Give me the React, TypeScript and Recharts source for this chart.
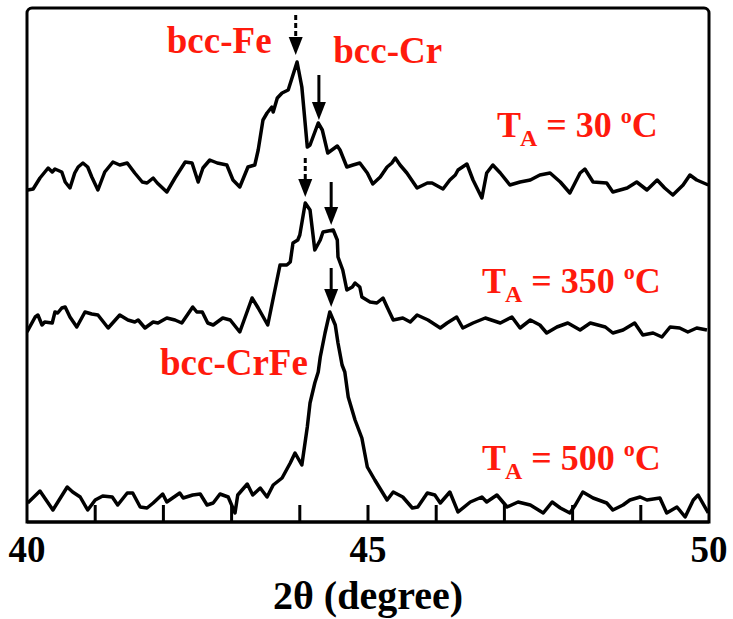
import React from 'react';
import { LineChart, Line, XAxis, YAxis, ReferenceLine, ReferenceDot, ReferenceArea } from 'recharts';

// 2θ positions (degree) and intensities (arb. units, already offset per trace)
const ta30X = [40.01, 40.09, 40.19, 40.31, 40.37, 40.41, 40.51, 40.56, 40.63, 40.7, 40.75, 40.82, 40.89, 40.95, 41.04, 41.14, 41.26, 41.36, 41.47, 41.58, 41.69, 41.76, 41.85, 41.91, 42.05, 42.17, 42.32, 42.42, 42.51, 42.58, 42.68, 42.79, 42.93, 43.02, 43.12, 43.24, 43.34, 43.39, 43.46, 43.52, 43.59, 43.61, 43.67, 43.74, 43.83, 43.96, 44.03, 44.11, 44.15, 44.27, 44.33, 44.41, 44.55, 44.59, 44.69, 44.78, 44.88, 44.99, 45.07, 45.18, 45.28, 45.35, 45.4, 45.47, 45.57, 45.72, 45.87, 45.94, 46.1, 46.2, 46.28, 46.32, 46.45, 46.54, 46.67, 46.74, 46.83, 46.94, 47.08, 47.23, 47.38, 47.52, 47.67, 47.82, 47.96, 48.11, 48.18, 48.3, 48.5, 48.59, 48.8, 48.94, 49.09, 49.24, 49.35, 49.47, 49.62, 49.72, 49.82, 49.99];
const ta30Y = [332, 333, 344, 354, 350, 353, 350, 340, 334, 349, 355, 359, 355, 345, 332, 350, 360, 357, 359, 349, 340, 339, 344, 339, 330, 344, 360, 359, 340, 354, 362, 359, 357, 342, 335, 355, 357, 372, 402, 409, 415, 410, 424, 429, 432, 460, 435, 375, 377, 399, 392, 369, 376, 372, 355, 357, 359, 349, 338, 345, 355, 359, 364, 357, 349, 334, 339, 339, 333, 342, 347, 352, 358, 342, 324, 349, 357, 349, 337, 340, 342, 347, 349, 340, 329, 349, 353, 340, 339, 330, 334, 340, 332, 342, 334, 327, 337, 347, 342, 337];

const ta350X = [40.0, 40.12, 40.16, 40.22, 40.26, 40.37, 40.41, 40.45, 40.51, 40.56, 40.63, 40.73, 40.85, 40.95, 41.04, 41.19, 41.36, 41.48, 41.58, 41.63, 41.73, 41.85, 41.92, 42.05, 42.17, 42.27, 42.35, 42.43, 42.49, 42.57, 42.65, 42.73, 42.87, 42.98, 43.12, 43.3, 43.39, 43.53, 43.71, 43.81, 43.86, 43.9, 43.97, 44.0, 44.08, 44.15, 44.22, 44.3, 44.34, 44.49, 44.55, 44.56, 44.63, 44.69, 44.77, 44.81, 44.88, 44.91, 45.03, 45.13, 45.22, 45.28, 45.37, 45.51, 45.62, 45.72, 45.88, 46.06, 46.16, 46.3, 46.39, 46.54, 46.72, 46.94, 47.11, 47.23, 47.38, 47.52, 47.62, 47.77, 47.93, 48.11, 48.26, 48.48, 48.59, 48.74, 48.91, 49.03, 49.18, 49.31, 49.43, 49.57, 49.69, 49.82, 49.97];
const ta350Y = [190, 205, 207, 197, 200, 199, 210, 209, 214, 215, 205, 195, 210, 208, 207, 194, 207, 202, 200, 202, 194, 200, 199, 204, 202, 199, 207, 215, 210, 210, 199, 197, 204, 202, 190, 224, 214, 197, 257, 257, 260, 279, 282, 287, 319, 312, 272, 282, 290, 292, 282, 265, 252, 232, 235, 239, 235, 225, 220, 219, 224, 215, 202, 204, 200, 207, 202, 194, 199, 205, 194, 199, 204, 199, 205, 194, 202, 197, 189, 195, 199, 192, 199, 195, 189, 192, 199, 187, 189, 185, 195, 194, 190, 194, 192];

const ta500X = [40.01, 40.19, 40.38, 40.59, 40.67, 40.78, 40.89, 41.0, 41.11, 41.25, 41.33, 41.47, 41.55, 41.66, 41.76, 41.85, 41.99, 42.05, 42.24, 42.29, 42.43, 42.54, 42.64, 42.73, 42.83, 42.95, 43.05, 43.09, 43.23, 43.31, 43.42, 43.52, 43.61, 43.74, 43.86, 43.93, 44.03, 44.11, 44.15, 44.22, 44.27, 44.3, 44.37, 44.44, 44.52, 44.56, 44.62, 44.66, 44.71, 44.81, 44.91, 44.99, 45.1, 45.28, 45.37, 45.51, 45.65, 45.73, 45.87, 45.98, 46.06, 46.2, 46.32, 46.5, 46.67, 46.74, 46.89, 47.04, 47.2, 47.38, 47.57, 47.7, 47.82, 47.96, 48.04, 48.15, 48.3, 48.5, 48.59, 48.74, 48.84, 48.99, 49.09, 49.28, 49.38, 49.53, 49.65, 49.77, 49.84, 49.99];
const ta500Y = [19, 31, 12, 35, 30, 25, 12, 22, 26, 25, 17, 29, 29, 15, 14, 19, 28, 20, 29, 24, 27, 28, 17, 19, 28, 25, 9, 27, 38, 27, 34, 25, 37, 44, 59, 69, 57, 95, 119, 139, 150, 165, 189, 210, 197, 179, 157, 150, 125, 102, 84, 55, 42, 22, 30, 25, 14, 15, 29, 27, 19, 30, 10, 20, 25, 20, 27, 15, 20, 17, 9, 20, 14, 9, 17, 30, 24, 19, 12, 17, 22, 25, 22, 24, 9, 15, 5, 22, 27, 9];

const xTicks = [40, 45, 50];
const minorTicks = [41, 42, 43, 44, 45, 46, 47, 48, 49];

// peak markers: position, shaft top, arrow tip, dashed?
const arrowX = [43.94, 44.28, 44.08, 44.46, 44.46];
const arrowTop = [507, 447, 364, 340, 254];
const arrowTip = [467, 402, 325, 297, 215];
const arrowDashed = [true, false, true, false, false];

const phaseNames = ['bcc-Fe', 'bcc-Cr', 'bcc-CrFe'];
const phaseX = [42.05, 44.49, 41.95];
const phaseY = [469, 459, 147];

const tempNames = ['30', '350', '500'];
const tempX = [46.89, 46.67, 46.67];
const tempY = [385, 229, 52];

const toPoints = (xs: number[], ys: number[]) => xs.map((x, i) => ({ x, y: ys[i] }));

const RED = '#ff1a0d';
const FONT = '"Liberation Serif", "Times New Roman", serif';

const Arrow = (props: any) => {
  const { x1, y1, y2, dashed } = props;
  const top = Math.min(y1, y2);
  const tip = Math.max(y1, y2);
  const headH = 18;
  const headW = 7;
  return (
    <g>
      <line
        x1={x1}
        y1={top}
        x2={x1}
        y2={tip - headH + 2}
        stroke="#000"
        strokeWidth={3}
        strokeDasharray={dashed ? '5 3' : undefined}
      />
      <path d={`M${x1 - headW},${tip - headH} L${x1 + headW},${tip - headH} L${x1},${tip} Z`} fill="#000" />
    </g>
  );
};

export default function App() {
  return (
    <div style={{ position: 'absolute', left: 0, top: 0, width: 733, height: 619, background: '#fff' }}>
      <LineChart width={733} height={619} margin={{ top: 8, right: 24, left: 27, bottom: 0 }}>
        <XAxis
          dataKey="x"
          type="number"
          domain={[40, 50]}
          ticks={xTicks}
          allowDataOverflow
          height={97}
          tickLine={false}
          tickMargin={8}
          axisLine={{ stroke: '#000', strokeWidth: 3 }}
          tick={{ fill: '#000', fontSize: 37, fontWeight: 'bold', fontFamily: FONT }}
          label={{
            value: '2θ (degree)',
            position: 'insideBottom',
            offset: 10,
            fill: '#000',
            fontSize: 40,
            fontWeight: 'bold',
            fontFamily: FONT,
          }}
        />
        <YAxis type="number" domain={[0, 514]} hide allowDataOverflow />

        <ReferenceArea
          x1={40}
          x2={50}
          y1={0}
          y2={514}
          fill="none"
          fillOpacity={0}
          stroke="#000"
          strokeWidth={3}
          radius={[5, 5, 0, 0]}
        />

        {minorTicks.map((t) => (
          <ReferenceLine
            key={`tick-${t}`}
            segment={[{ x: t, y: 0 }, { x: t, y: 17 }]}
            stroke="#000"
            strokeWidth={3}
          />
        ))}

        <Line data={toPoints(ta30X, ta30Y)} dataKey="y" type="linear" stroke="#000" strokeWidth={3.5} dot={false} strokeLinejoin="round" isAnimationActive={false} />
        <Line data={toPoints(ta350X, ta350Y)} dataKey="y" type="linear" stroke="#000" strokeWidth={3.5} dot={false} strokeLinejoin="round" isAnimationActive={false} />
        <Line data={toPoints(ta500X, ta500Y)} dataKey="y" type="linear" stroke="#000" strokeWidth={3.5} dot={false} strokeLinejoin="round" isAnimationActive={false} />

        {arrowX.map((x, i) => (
          <ReferenceLine
            key={`arrow-${i}`}
            segment={[{ x, y: arrowTop[i] }, { x, y: arrowTip[i] }]}
            shape={(p: any) => <Arrow {...p} dashed={arrowDashed[i]} />}
          />
        ))}

        {phaseNames.map((name, i) => (
          <ReferenceDot
            key={name}
            x={phaseX[i]}
            y={phaseY[i]}
            r={0}
            shape={(p: any) => (
              <text x={p.cx} y={p.cy} fill={RED} fontSize={37} fontWeight="bold" fontFamily={FONT}>
                {name}
              </text>
            )}
          />
        ))}

        {tempNames.map((t, i) => (
          <ReferenceDot
            key={`temp-${t}`}
            x={tempX[i]}
            y={tempY[i]}
            r={0}
            shape={(p: any) => (
              <text x={p.cx} y={p.cy} fill={RED} fontSize={36} fontWeight="bold" fontFamily={FONT}>
                T
                <tspan fontSize={24} dx={-1} dy={9}>A</tspan>
                <tspan dy={-9}>{` = ${t} `}</tspan>
                <tspan fontSize={22} dy={-14}>o</tspan>
                <tspan dy={14}>C</tspan>
              </text>
            )}
          />
        ))}
      </LineChart>
    </div>
  );
}
